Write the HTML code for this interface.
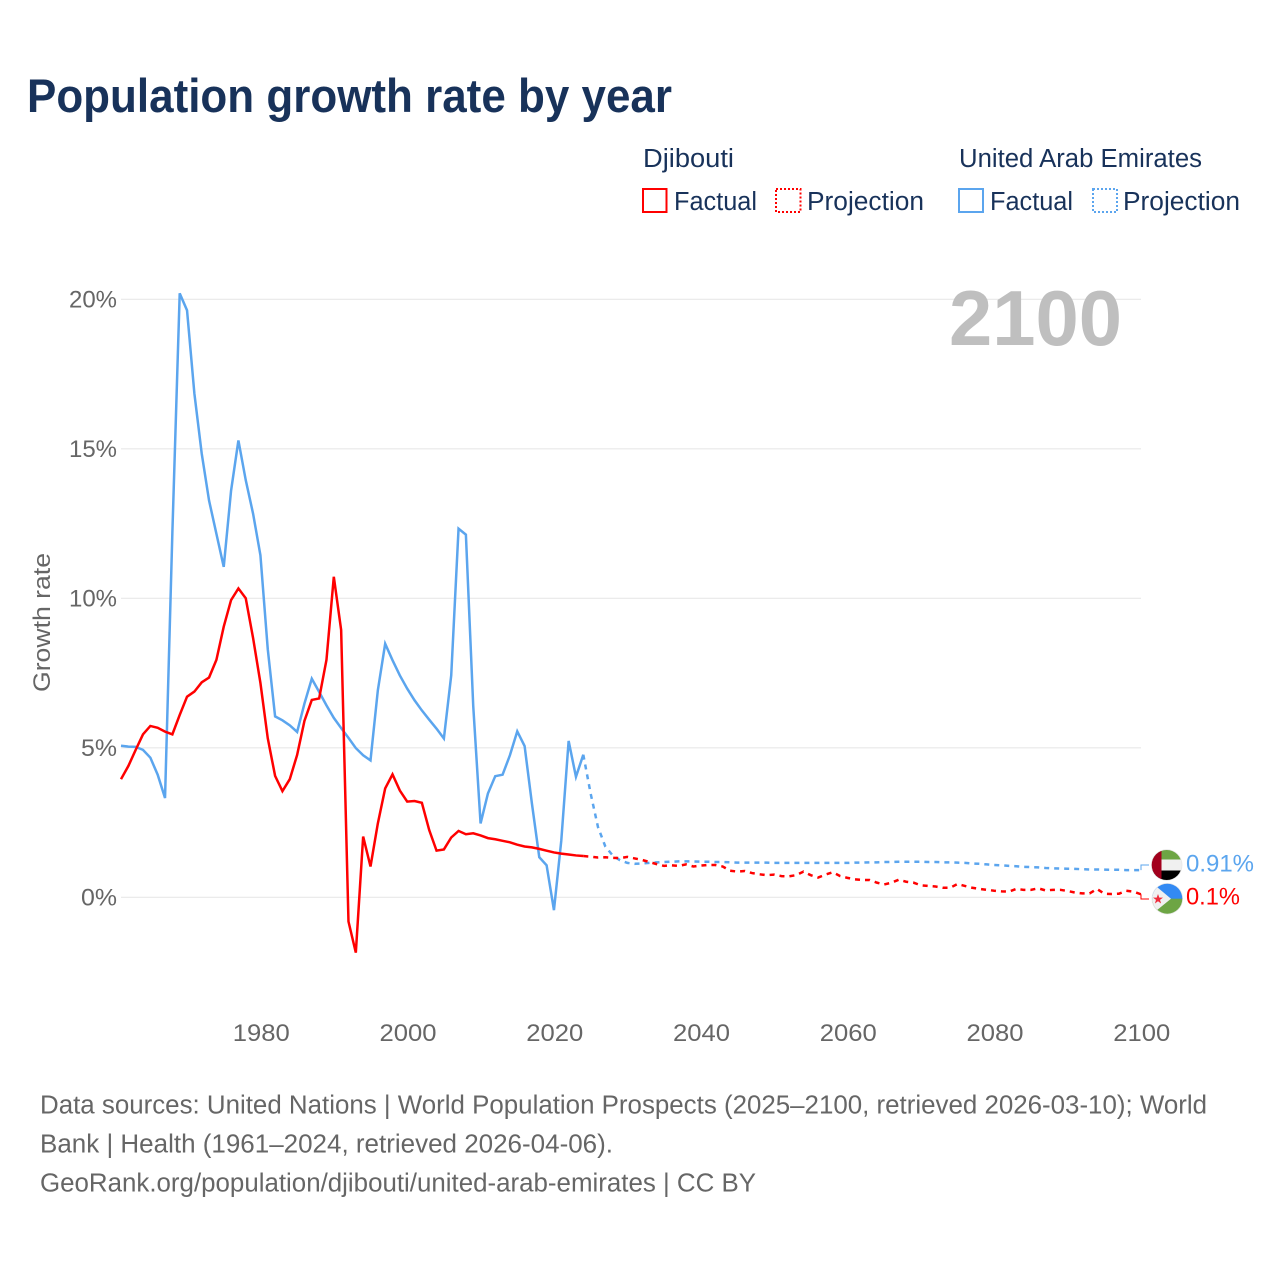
<!DOCTYPE html>
<html lang="en">
<head>
<meta charset="utf-8">
<title>Population growth rate by year</title>
<style>
html,body{margin:0;padding:0;background:#fff;width:1280px;height:1280px;overflow:hidden}
svg{display:block}
text{font-family:"Liberation Sans",sans-serif}
</style>
</head>
<body>
<svg id="chart" xmlns="http://www.w3.org/2000/svg" width="1280" height="1280" viewBox="0 0 1280 1280">
  <rect x="0" y="0" width="1280" height="1280" fill="#ffffff"/>
  <text x="27" y="112" font-size="47" font-weight="700" fill="#18325a" textLength="645" lengthAdjust="spacingAndGlyphs">Population growth rate by year</text>

  <g>
    <text x="643" y="167" font-size="25.5" fill="#18325a" textLength="91" lengthAdjust="spacingAndGlyphs">Djibouti</text>
    <text x="959" y="167" font-size="25.5" fill="#18325a" textLength="243" lengthAdjust="spacingAndGlyphs">United Arab Emirates</text>
    <rect x="643" y="189" width="23.5" height="23" fill="none" stroke="#ff0000" stroke-width="2"/>
    <text x="674" y="210" font-size="25.5" fill="#18325a" textLength="83" lengthAdjust="spacingAndGlyphs">Factual</text>
    <rect x="776" y="189" width="24.5" height="23" fill="none" stroke="#ff0000" stroke-width="2" stroke-dasharray="2 2"/>
    <text x="807" y="210" font-size="25.5" fill="#18325a" textLength="117" lengthAdjust="spacingAndGlyphs">Projection</text>
    <rect x="959" y="189" width="24" height="23" fill="none" stroke="#5ba5ee" stroke-width="2"/>
    <text x="990" y="210" font-size="25.5" fill="#18325a" textLength="83" lengthAdjust="spacingAndGlyphs">Factual</text>
    <rect x="1093" y="189" width="24" height="23" fill="none" stroke="#5ba5ee" stroke-width="2" stroke-dasharray="2 2"/>
    <text x="1123" y="210" font-size="25.5" fill="#18325a" textLength="117" lengthAdjust="spacingAndGlyphs">Projection</text>
  </g>

  <g id="grid"></g>
  <g id="y-ticks"></g>
  <g id="x-ticks"></g>
  <text transform="translate(50,622.5) rotate(-90)" text-anchor="middle" font-size="24" fill="#666666" textLength="139" lengthAdjust="spacingAndGlyphs">Growth rate</text>
  <text id="year-watermark" x="949" y="345" font-size="78" font-weight="700" fill="#bfbfbf" textLength="173" lengthAdjust="spacingAndGlyphs">2100</text>

  <g id="series"></g>

  <g id="end-markers">
    <g>
      <clipPath id="clip-uae"><circle cx="1166.7" cy="865" r="15"/></clipPath>
      <circle cx="1166.7" cy="865" r="15.7" fill="#e6e6e6"/>
      <g clip-path="url(#clip-uae)">
        <rect x="1150" y="849" width="34" height="10.5" fill="#6da544"/>
        <rect x="1150" y="859.5" width="34" height="11" fill="#f0f0f0"/>
        <rect x="1150" y="870.5" width="34" height="10" fill="#000000"/>
        <rect x="1150" y="849" width="11.5" height="32" fill="#a2001d"/>
      </g>
    </g>
    <g>
      <clipPath id="clip-dj"><circle cx="1167.3" cy="898.7" r="15"/></clipPath>
      <circle cx="1167.3" cy="898.7" r="15.7" fill="#e6e6e6"/>
      <g clip-path="url(#clip-dj)">
        <rect x="1150" y="883" width="36" height="16" fill="#338af3"/>
        <rect x="1150" y="898.7" width="36" height="16" fill="#6da544"/>
        <polygon points="1151,882 1171,898.7 1151,915" fill="#f0f0f0"/>
        <polygon points="1158,894 1159.3,897.6 1163,897.6 1160,899.9 1161.1,903.5 1158,901.3 1154.9,903.5 1156,899.9 1153,897.6 1156.7,897.6" fill="#ee2b3a"/>
      </g>
    </g>
  </g>

  <g>
    <text x="40" y="1113.7" font-size="25.5" fill="#666666" textLength="1167" lengthAdjust="spacingAndGlyphs">Data sources: United Nations | World Population Prospects (2025–2100, retrieved 2026-03-10); World</text>
    <text x="40" y="1152.7" font-size="25.5" fill="#666666" textLength="573" lengthAdjust="spacingAndGlyphs">Bank | Health (1961–2024, retrieved 2026-04-06).</text>
    <text x="40" y="1191.7" font-size="25.5" fill="#666666" textLength="716" lengthAdjust="spacingAndGlyphs">GeoRank.org/population/djibouti/united-arab-emirates | CC BY</text>
  </g>
</svg>
<script>
const factualFirstYear = 1961;
const projectionFirstYear = 2025;
const yTickValues = [0, 5, 10, 15, 20];
const yTickLabels = ['0%', '5%', '10%', '15%', '20%'];
const xTickValues = [1980, 2000, 2020, 2040, 2060, 2080, 2100];
const xTickLabels = ['1980', '2000', '2020', '2040', '2060', '2080', '2100'];
const djiboutiFactual = [
  3.95,4.39,4.93,5.45,5.73,5.67,5.54,5.45,6.10,6.71,
  6.88,7.19,7.35,7.94,9.05,9.94,10.33,10.00,8.67,7.17,
  5.32,4.06,3.55,3.95,4.76,5.90,6.60,6.65,7.94,10.72,
  8.94,-0.81,-1.85,2.03,1.03,2.47,3.64,4.11,3.57,3.20,
  3.22,3.16,2.25,1.56,1.60,2.00,2.22,2.11,2.14,2.07,
  1.98,1.94,1.89,1.84,1.76,1.70,1.67,1.62,1.56,1.50,
  1.46,1.43,1.40,1.38
];
const djiboutiProjection = [
  1.36,1.33,1.34,1.32,1.31,1.35,1.30,1.25,1.18,1.11,
  1.05,1.07,1.05,1.10,1.03,1.06,1.08,1.08,1.03,0.89,
  0.86,0.88,0.81,0.77,0.74,0.76,0.71,0.70,0.74,0.86,
  0.74,0.66,0.76,0.84,0.71,0.65,0.60,0.58,0.58,0.49,
  0.43,0.49,0.59,0.52,0.49,0.40,0.38,0.36,0.32,0.32,
  0.445,0.38,0.32,0.28,0.25,0.22,0.20,0.19,0.28,0.25,
  0.25,0.30,0.23,0.25,0.25,0.21,0.16,0.13,0.13,0.28,
  0.12,0.11,0.12,0.22,0.19,0.10
];
const uaeFactual = [
  5.07,5.04,5.03,4.93,4.67,4.10,3.32,12.20,20.20,19.63,
  16.85,14.84,13.27,12.16,11.05,13.60,15.28,13.95,12.83,11.44,
  8.30,6.05,5.92,5.75,5.53,6.48,7.31,6.87,6.42,6.00,
  5.66,5.33,4.99,4.75,4.58,6.92,8.48,7.93,7.42,6.98,
  6.59,6.25,5.94,5.64,5.31,7.42,12.33,12.13,6.40,2.47,
  3.47,4.05,4.10,4.75,5.55,5.06,3.13,1.34,1.07,-0.43,
  1.90,5.23,4.03,4.77
];
const uaeProjection = [
  3.47,2.35,1.70,1.40,1.24,1.15,1.12,1.13,1.15,1.17,
  1.18,1.19,1.20,1.20,1.20,1.19,1.19,1.18,1.18,1.17,
  1.16,1.16,1.16,1.16,1.16,1.15,1.15,1.15,1.15,1.15,
  1.15,1.15,1.15,1.15,1.15,1.15,1.16,1.16,1.17,1.17,
  1.18,1.18,1.19,1.19,1.19,1.19,1.18,1.18,1.17,1.17,
  1.16,1.15,1.13,1.12,1.10,1.08,1.07,1.05,1.04,1.02,
  1.01,1.00,0.98,0.97,0.96,0.955,0.95,0.94,0.93,0.93,
  0.925,0.92,0.92,0.91,0.91,0.91
];
const endLabels = ['0.1%', '0.91%'];

const SVGNS = 'http://www.w3.org/2000/svg';
function xScale(year) { return 121 + (year - 1961) * (1020 / 139); }
function yScale(value) { return 897.3 - value * 29.9; }
function make(tag, attrs, parent) {
  const el = document.createElementNS(SVGNS, tag);
  for (const k in attrs) el.setAttribute(k, attrs[k]);
  parent.appendChild(el);
  return el;
}
function pathFrom(firstYear, values, prefix) {
  let d = prefix || '';
  values.forEach(function (v, i) {
    d += (d ? 'L' : 'M') + xScale(firstYear + i).toFixed(2) + ' ' + yScale(v).toFixed(2);
  });
  return d;
}

const gridG = document.getElementById('grid');
const yG = document.getElementById('y-ticks');
yTickValues.forEach(function (v, i) {
  const line = make('line', { x1: 121, x2: 1141, y1: yScale(v), y2: yScale(v), stroke: '#e8e8e8', 'stroke-width': 1.2 }, gridG);
  
  
  const t = make('text', { x: 117, y: yScale(v) + 8, 'text-anchor': 'end', 'font-size': 24, fill: '#666666' }, yG);
  t.textContent = yTickLabels[i];
  t.setAttribute('textLength', yTickLabels[i].length === 3 ? 48 : 36);
  t.setAttribute('lengthAdjust', 'spacingAndGlyphs');
  
  
});

const xG = document.getElementById('x-ticks');
xTickValues.forEach(function (v, i) {
  const t = make('text', { x: xScale(v) + 0.8, y: 1041, 'text-anchor': 'middle', 'font-size': 24, fill: '#666666' }, xG);
  t.textContent = xTickLabels[i];
  t.setAttribute('textLength', 57);
  t.setAttribute('lengthAdjust', 'spacingAndGlyphs');
  
  
});

const seriesG = document.getElementById('series');
const BLUE = '#5ba5ee';
const RED = '#ff0000';

const uaeFactualLine = make('path', { d: pathFrom(factualFirstYear, uaeFactual), fill: 'none', stroke: BLUE, 'stroke-width': 2.5, 'stroke-linejoin': 'miter' }, seriesG);



const uaeStart = 'M' + xScale(factualFirstYear + uaeFactual.length - 1).toFixed(2) + ' ' + yScale(uaeFactual[uaeFactual.length - 1]).toFixed(2);
const uaeProjLine = make('path', { d: pathFrom(projectionFirstYear, uaeProjection, uaeStart), fill: 'none', stroke: BLUE, 'stroke-width': 2.5, 'stroke-dasharray': '5 5' }, seriesG);



const djFactualLine = make('path', { d: pathFrom(factualFirstYear, djiboutiFactual), fill: 'none', stroke: RED, 'stroke-width': 2.5, 'stroke-linejoin': 'miter' }, seriesG);



const djStart = 'M' + xScale(factualFirstYear + djiboutiFactual.length - 1).toFixed(2) + ' ' + yScale(djiboutiFactual[djiboutiFactual.length - 1]).toFixed(2);
const djProjLine = make('path', { d: pathFrom(projectionFirstYear, djiboutiProjection, djStart), fill: 'none', stroke: RED, 'stroke-width': 2.5, 'stroke-dasharray': '5 5' }, seriesG);



const endG = document.getElementById('end-markers');
const xEnd = xScale(2100);
const uaeConnector = make('path', { d: 'M' + xEnd + ' ' + yScale(uaeProjection[uaeProjection.length - 1]) + 'V865H1149', fill: 'none', stroke: BLUE, 'stroke-width': 1 }, endG);


const djConnector = make('path', { d: 'M' + xEnd + ' ' + yScale(djiboutiProjection[djiboutiProjection.length - 1]) + 'V899H1149', fill: 'none', stroke: RED, 'stroke-width': 1 }, endG);



const uaeLabel = make('text', { x: 1186, y: 871.5, 'font-size': 24.5, fill: BLUE, textLength: 68, lengthAdjust: 'spacingAndGlyphs' }, endG);
uaeLabel.textContent = endLabels[1];


const djLabel = make('text', { x: 1186, y: 904.5, 'font-size': 24.5, fill: RED, textLength: 54, lengthAdjust: 'spacingAndGlyphs' }, endG);
djLabel.textContent = endLabels[0];


</script>
</body>
</html>
